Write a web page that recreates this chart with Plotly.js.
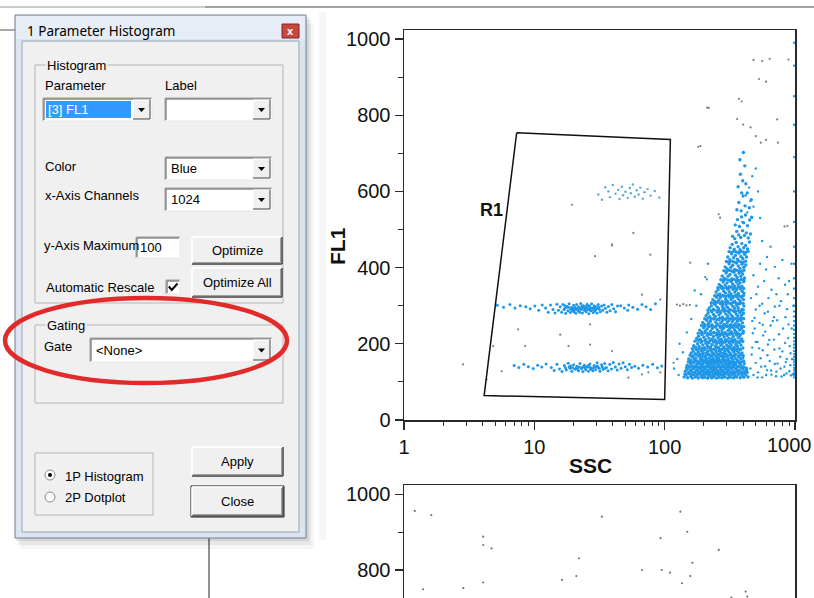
<!DOCTYPE html>
<html><head><meta charset="utf-8">
<script src="https://cdn.plot.ly/plotly-3.0.1.min.js"></script>
<style>html,body{margin:0;padding:0;background:#fff;}#chart{width:814px;height:598px;}</style>
</head><body><div id="chart"></div>
<script>
// ---------------- DATA (SSC, FL1) ----------------
const xTickVals = [1, 10, 100, 1000];
const xTickText = ['1', '10', '100', '1000'];
const xMinorVals = [2,3,4,5,6,7,8,9,20,30,40,50,60,70,80,90,200,300,400,500,600,700,800,900];
const yTickVals = [0, 200, 400, 600, 800, 1000];
const yMinorVals = [100, 300, 500, 700, 900];

// Gate R1 polygon vertices
const gateSSC = [7.32, 110.6, 100, 4.12, 7.32];
const gateFL1 = [754, 736, 54, 64, 754];
const gateLabel = 'R1';

// Dense main population (triangle)
const mainDense = [
[141,113],[146,118],[150,111],[155,121],[159,114],[163,110],[168,119],[172,113],[177,116],[181,110],[186,121],[190,114],[195,111],[199,118],[204,112],[209,120],[214,110],[218,115],[223,119],[229,111],[234,116],[240,113],[246,120],[251,110],[257,117],[263,112],[270,119],[276,111],[283,116],[290,113],[297,121],[305,110],[312,117],[320,112],[329,119],[338,111],[348,116],[357,113],[368,120],[380,111],[392,117],[405,112],[420,118],[436,113],
[144,128],[149,133],[153,125],[158,131],[162,127],[167,135],[171,126],[176,132],[180,129],[185,124],[189,134],[194,128],[198,131],[203,125],[208,133],[213,127],[217,130],[222,124],[227,135],[233,128],[238,132],[244,126],[249,134],[255,129],[261,125],[267,133],[273,128],[280,131],[287,125],[294,134],[301,127],[309,132],[317,126],[325,135],[334,129],[343,124],[353,133],[363,127],[374,131],[386,126],[398,134],[411,128],[425,132],
[149,144],[154,139],[158,148],[163,142],[168,150],[172,141],[177,146],[182,139],[186,149],[191,143],[196,147],[201,140],[206,151],[211,144],[216,148],[221,141],[226,146],[232,150],[237,142],[243,147],[248,139],[254,149],[260,144],[266,141],[272,150],[279,145],[285,140],[292,148],[299,143],[307,151],[315,146],[323,140],[331,149],[340,144],[350,147],[360,141],[371,150],[383,145],[395,139],[408,148],
[153,160],[158,156],[163,165],[168,158],[173,162],[178,155],[183,167],[188,160],[193,164],[198,157],[203,166],[208,161],[213,155],[219,163],[224,158],[230,167],[235,161],[241,156],[247,165],[253,159],[259,163],[265,156],[272,167],[278,160],[285,164],[292,157],[300,166],[307,161],[315,155],[324,164],[333,159],[342,167],[352,161],[362,156],[373,165],[385,160],[398,163],
[160,176],[166,181],[171,174],[176,184],[181,178],[187,173],[192,182],[197,177],[203,185],[208,175],[214,180],[219,172],[225,183],[231,178],[237,174],[243,184],[249,179],[255,173],[262,182],[268,177],[275,185],[282,175],[289,180],[296,173],[304,183],[312,178],[320,174],[329,184],[338,179],[348,173],[358,182],[369,177],[380,185],[392,176],
[167,195],[173,191],[179,200],[184,193],[190,204],[196,197],[202,190],[207,201],[213,195],[219,203],[225,192],[231,198],[238,205],[244,194],[250,200],[257,191],[263,203],[270,196],[277,201],[284,192],[292,205],[299,197],[307,193],[315,202],[324,196],[333,204],[342,191],[352,199],[362,194],[373,203],[385,197],
[176,214],[182,220],[188,212],[194,224],[200,217],[206,211],[212,222],[218,215],[224,225],[231,213],[237,219],[244,210],[250,223],[257,216],[264,221],[271,212],[278,224],[286,218],[293,211],[301,222],[310,215],[318,225],[327,213],[336,219],[346,211],[356,223],[367,216],[378,221],[390,213],
[186,236],[192,231],[199,242],[205,234],[212,239],[218,245],[225,233],[232,240],[239,230],[246,244],[253,237],[260,232],[268,243],[275,236],[283,241],[291,230],[299,245],[307,235],[316,240],[325,232],[334,243],[344,237],[354,231],[365,242],[376,236],[388,240],[401,233],
[196,256],[203,251],[210,262],[217,254],[224,259],[231,250],[238,265],[246,257],[253,252],[261,263],[269,255],[277,260],[285,251],[293,264],[302,256],[311,261],[320,250],[330,258],[340,264],[350,253],[361,259],[372,251],[384,262],[396,255],
[208,274],[215,280],[222,271],[230,284],[237,277],[245,272],[253,283],[261,276],[269,281],[278,270],[286,285],[295,278],[304,273],[313,282],[323,276],[333,271],[343,284],[354,278],[365,273],[377,282],[389,275],[402,280],
[220,294],[228,300],[236,291],[244,303],[252,297],[260,292],[269,305],[277,298],[286,293],[295,302],[304,296],[314,290],[324,304],[334,298],[345,293],[356,301],[367,295],[379,305],[392,290],[405,299],
[234,316],[242,311],[250,322],[259,314],[267,320],[276,311],[285,325],[294,317],[303,312],[313,323],[323,316],[333,321],[344,312],[355,324],[366,318],[378,313],[390,322],[403,316],
[248,336],[257,342],[266,331],[275,345],[284,338],[293,333],[303,344],[313,337],[323,331],[334,343],[345,336],[356,341],[368,332],[380,344],[393,338],[406,333],
[262,356],[272,351],[281,362],[291,354],[301,360],[311,350],[322,364],[332,357],[343,352],[355,362],[366,355],[379,360],[391,351],[404,363],
[276,378],[286,372],[296,386],[306,377],[317,382],[327,371],[338,388],[349,380],[360,374],[372,385],[384,377],[397,383],[410,373],
[291,402],[301,397],[312,410],[322,401],[333,406],[344,395],[356,412],[367,404],[379,398],[392,409],[405,401],[419,407],
[305,428],[316,421],[327,436],[338,426],[349,432],[361,422],[373,438],[385,429],[398,424],[411,435],[425,428],
[318,452],[330,461],[342,448],[354,466],[366,455],[378,447],[391,463],[404,452],[418,458],[432,449],[447,467],
[332,482],[345,476],[357,495],[370,486],[383,479],[396,497],[409,484],[423,491],[438,478],[455,488],
[348,512],[362,526],[375,508],[389,533],[403,518],[417,538],[432,510],[448,525],[465,532],
[358,552],[371,571],[386,549],[400,588],[414,562],[430,596],[446,557],[462,578],
[366,612],[381,645],[397,628],[412,667],[378,683],[402,702],[420,620],[390,596]
];

// Additional events filling the main population
const mainFill = [
[143,121],[152,123],[161,119],[170,124],[179,121],[188,126],[197,120],[206,124],[216,122],[226,126],[236,120],[247,124],[258,122],[270,126],[282,121],[295,124],[309,120],[323,125],[338,122],[354,126],[371,121],[389,124],[409,122],[430,125],
[147,137],[156,139],[165,136],[174,140],[183,137],[192,139],[202,136],[212,140],[222,137],[233,139],[244,136],[256,140],[268,137],[281,139],[294,136],[308,140],[322,137],[337,139],[353,136],[369,140],[387,137],[405,139],[424,136],
[152,153],[161,151],[170,155],[179,152],[189,154],[199,151],[209,155],[220,152],[231,154],[242,151],[254,155],[266,152],[279,154],[292,151],[306,155],[320,152],[335,154],[351,151],[367,155],[385,152],[403,154],
[157,170],[166,168],[176,171],[186,169],[196,172],[206,168],[217,171],[228,169],[240,172],[252,168],[264,171],[277,169],[290,172],[304,168],[318,171],[333,169],[349,172],[366,168],[383,171],[401,169],
[163,187],[173,189],[183,186],[193,188],[204,185],[215,189],[226,187],[238,186],[250,189],[262,187],[275,185],[288,188],[302,186],[316,189],[331,187],[347,185],[363,188],[380,186],[398,189],
[171,207],[181,209],[192,206],[203,208],[214,205],[225,209],[237,207],[249,206],[262,209],[275,207],[288,205],[302,208],[316,206],[331,209],[347,207],[363,205],[380,208],[398,206],
[181,228],[192,226],[203,229],[214,227],[226,225],[238,229],[250,227],[263,226],[276,229],[289,227],[303,225],[317,228],[332,226],[348,229],[364,227],[381,225],[399,228],
[192,248],[203,246],[215,249],[227,247],[239,245],[252,249],[265,247],[278,246],[292,249],[306,247],[321,245],[336,248],[352,246],[369,249],[386,247],[404,245],
[203,266],[215,268],[227,265],[239,267],[252,264],[265,268],[278,266],[292,265],[306,268],[321,266],[336,264],[352,267],[369,265],[386,268],[404,266],
[215,288],[227,286],[239,289],[252,287],[265,285],[278,289],[292,287],[306,286],[320,289],[335,287],[351,285],[367,288],[384,286],[401,289],
[228,308],[240,306],[253,309],[266,307],[279,305],[293,309],[307,307],[321,306],[336,309],[351,307],[367,305],[384,308],[401,306],
[242,326],[255,328],[268,325],[281,327],[295,324],[309,328],[323,326],[338,325],[353,328],[369,326],[386,324],[403,327],
[256,347],[269,349],[282,346],[296,348],[310,345],[324,349],[339,347],[354,346],[370,349],[387,347],[404,345],
[270,368],[283,366],[297,369],[311,367],[325,365],[340,369],[355,367],[371,366],[388,369],[405,367],
[285,392],[299,390],[313,393],[327,391],[341,389],[356,393],[372,391],[388,390],[405,393],
[298,416],[312,414],[326,417],[340,415],[355,413],[370,417],[386,415],[402,414],[419,417],
[312,442],[326,440],[340,443],[355,441],[370,439],[385,443],[401,441],[418,440],[436,443]
];

// Upper horizontal band (~FL1 290)
const bandUpper = [
[5.2,301],[5.8,296],[6.5,303],[7.1,294],[7.8,300],[8.6,297],[9.3,292],[10.1,299],[10.8,288],[11.5,302],
[12.2,294],[12.8,283],[13.3,302],[13.9,290],[14.4,281],[14.9,304],[15.3,288],[15.8,297],[16.2,283],[16.6,303],[17.0,292],[17.4,280],[17.8,298],[18.1,287],[18.5,305],[18.9,282],[19.3,295],[19.6,286],[20.0,301],[20.4,290],[20.8,280],[21.1,303],[21.5,289],[21.9,297],[22.3,283],[22.7,306],[23.0,293],[23.4,281],[23.8,300],[24.2,288],[24.6,297],[25.0,284],[25.4,304],[25.8,291],[26.2,279],[26.6,299],[27.0,287],[27.5,305],[27.9,294],[28.3,282],[28.8,300],[29.3,289],[29.8,297],[30.3,281],[30.9,303],[31.5,291],[32.1,284],[32.8,299],[33.5,288],[34.3,302],[35.1,293],[36.0,283],[37.0,298],[38.1,287],[39.3,303],[40.6,292],[42.0,284],[43.5,299],
[18.3,296],[19.0,291],[19.9,293],[20.6,295],[21.3,292],[22.1,294],[22.9,290],[23.6,296],[24.4,292],[25.2,294],[26.0,290],[26.8,295],[27.7,291],[28.6,294],[29.5,290],[16.9,290],[17.6,296],[24.8,287],[21.7,286],[19.7,288],[27.3,288],[20.2,284],[23.2,299],[25.6,300],[29.0,286],[31.2,296],[17.2,300],[22.5,292],[26.4,292],[30.0,292],
[46,300],[49,294],[53,302],[57,296],[62,291],[67,303],[72,297],[78,290],[85,305],[52,288]
];

// Lower horizontal band (~FL1 140)
const bandLower = [
[7.0,143],[7.6,138],[8.3,146],[9.0,140],[9.8,135],[10.6,144],[11.4,139],[12.3,147],
[13.5,138],[14.2,130],[14.9,146],[15.6,134],[16.3,127],[17.0,143],[17.6,131],[18.2,149],[18.8,136],[19.4,128],[20.0,145],[20.6,133],[21.2,141],[21.8,129],[22.4,148],[23.0,135],[23.6,127],[24.2,144],[24.8,132],[25.4,140],[26.0,128],[26.7,147],[27.4,135],[28.1,129],[28.8,143],[29.5,132],[30.3,150],[31.1,137],[31.9,128],[32.8,145],[33.7,133],[34.7,148],[35.7,138],[36.8,129],[37.9,146],[39.1,134],[40.4,151],[41.8,139],[43.2,131],[44.7,147],[46.3,136],[48.0,150],[49.8,140],[51.7,132],[53.7,146],[55.8,138],
[18.5,139],[19.7,137],[20.9,136],[22.1,139],[23.3,138],[24.5,137],[25.7,139],[26.9,138],[28.4,137],[29.9,139],[31.5,136],[33.2,140],[17.3,137],[35.0,136],[21.5,134],[24.0,141],[27.0,133],[30.5,142],[19.0,142],[26.0,143],
[59,141],[63,136],[68,144],[74,139],[81,146],[88,137],[95,142]
];

// Small cluster near FL1 600
const clusterUpper = [
[31,592],[33,578],[35,611],[37,600],[38,585],[40,617],[42,594],[44,604],[45,580],[47,612],[48,590],[50,599],[52,583],[54,609],[55,595],[57,618],[59,586],[61,603],[63,592],[65,610],[68,581],[70,598],[74,606],[78,589],[84,601],[91,584]
];

// Sparse events around and right of main population
const sparseBlue = [
[480,118],[520,125],[560,112],[610,131],[660,119],[720,127],[790,114],[860,122],[930,117],
[500,150],[545,162],[590,141],[640,155],[700,147],[770,166],[850,152],[920,144],
[470,190],[515,205],[565,183],[620,198],[690,211],[760,188],[840,202],[910,194],
[490,240],[535,255],[590,232],[650,248],[730,262],[810,240],[890,251],
[500,290],[560,305],[620,284],[700,298],[780,312],[870,291],
[520,350],[580,365],[660,342],[750,372],[840,355],
[540,410],[610,428],[700,402],[800,420],[560,470],[650,455],
[455,135],[465,172],[475,228],[490,268],[505,330],[515,112],[530,188],[550,140],[570,222],[585,280],[600,118],[615,170],[635,210],[655,130],[675,260],[695,185],[715,115],[735,148],[755,225],[775,135],[800,180],[825,118],[845,270],[865,160],[885,215],[905,128],[925,175],[945,240],[960,120],[970,300],[460,320],[480,380],[600,395],[720,330],[880,330],[940,410],[470,260],[500,205],[535,300],[565,250],[625,320],[690,270],[760,300],[830,140],[900,365],[950,160],
[125,160],[130,200],[138,178],[148,230],[160,265],[175,300],[190,330],[205,375],[118,135],[128,118],[170,340],[215,410],
[420,590],[445,610],[470,640],[500,660],[455,575],[520,600],[430,545],[480,560],[395,520],[540,530]
];

// Saturated events on the right edge
const edgeColumn = [
[985,112],[985,118],[985,124],[985,131],[985,137],[985,145],[985,152],[985,158],[985,166],[985,173],[985,181],[985,190],[985,198],[985,207],[985,216],[985,226],[985,237],[985,248],[985,260],[985,272],[985,285],[985,300],[985,320],[985,345],[985,372],[985,410],[985,455],[985,520],[985,600],[985,690],[985,775],[985,850],[985,930],[985,990]
];

// Stray grey events
const strayGray = [
[2.84,146],[4.83,194],[5.62,128],[8.5,194],[18.3,194],[15.8,224],[26.8,198],[26.8,251],[39.4,181],[39.4,461],[29.3,430],[77.6,434],[67,329],[92.6,316],[157,413],[211,369],[75,125],[67,120],[92.6,125],[117,150],[7.5,238],[4.3,106],[52.7,111],
[19.4,565],[57.5,491],[39.4,458],
[124,303],[131,300],[139,304],[147,301],[156,302],
[480,945],[560,942],[640,948],[530,895],[600,888],[372,843],[390,836],[212,820],[360,790],[400,775],[456,768],[500,745],[600,735],[740,728],[181,717],[260,540],[830,508],[890,946],[730,789],[873,509],[547,728],[218,819],[188,719],[266,531]
];

// Second (lower) panel events
const lowerPanelDots = [
[1.21,956],[1.62,945],[4.05,888],[4.05,866],[4.7,857],[33,941],[132,954],[149,901],[93,884],[260,853],[22,831],[21,784],[67,800],[95,800],[110,793],[163,819],[157,784],[136,765],[16.3,774],[4.05,767],[1.4,749],[2.85,752],[418,743],[430,730],[325,727]
];

// ---------------- FIGURE ----------------
const W = 814, H = 598;
const X = p => p / W;
const Y = p => 1 - p / H;
const shapes = [];
const annos = [];
const SANS = 'Liberation Sans, Arial, sans-serif';
function rect(x0,y0,x1,y1,fill,lc,lw){
  shapes.push({type:'rect',xref:'paper',yref:'paper',x0:X(x0),x1:X(x1),y0:Y(y1),y1:Y(y0),
    fillcolor:fill||'rgba(0,0,0,0)',line:{color:lc||'rgba(0,0,0,0)',width:lw||0}});
}
function seg(x0,y0,x1,y1,c,w){
  shapes.push({type:'line',xref:'paper',yref:'paper',x0:X(x0),x1:X(x1),y0:Y(y0),y1:Y(y1),line:{color:c,width:w}});
}
function poly(pts,fill,lc,lw,closed){
  let d = pts.map((p,i)=>(i?'L':'M')+X(p[0])+','+Y(p[1])).join(' ');
  if(closed!==false) d += ' Z';
  shapes.push({type:'path',xref:'paper',yref:'paper',path:d,fillcolor:fill||'rgba(0,0,0,0)',line:{color:lc||'rgba(0,0,0,0)',width:lw||0}});
}
function ell(x0,y0,x1,y1,fill,lc,lw){
  shapes.push({type:'circle',xref:'paper',yref:'paper',x0:X(x0),x1:X(x1),y0:Y(y1),y1:Y(y0),
    fillcolor:fill||'rgba(0,0,0,0)',line:{color:lc||'rgba(0,0,0,0)',width:lw||0}});
}
function txt(x,y,s,o){
  o=o||{};
  const a={xref:'paper',yref:'paper',x:X(x),y:Y(y),text:s,showarrow:false,
    xanchor:o.anchor||'left',yanchor:'middle',
    font:{family:o.family||SANS,size:o.size||13,color:o.color||'#000'},
    borderpad:o.pad===undefined?0:o.pad,textangle:o.angle||0};
  if(o.bg) a.bgcolor=o.bg;
  annos.push(a);
}
function sunken(x0,y0,x1,y1){
  rect(x0,y0,x1,y1,'#ffffff');
  seg(x0,y0,x1,y0,'#a0a0a0',1); seg(x0,y0,x0,y1,'#a0a0a0',1);
  seg(x0+1,y0+1,x1-1,y0+1,'#555555',1); seg(x0+1,y0+1,x0+1,y1-1,'#555555',1);
  seg(x0,y1,x1,y1,'#e8e8e8',1); seg(x1,y0,x1,y1,'#e8e8e8',1);
}
function combo(x0,y0,x1,y1,label,sel){
  sunken(x0,y0,x1,y1);
  const bx0=x1-19, bx1=x1-2, by0=y0+2, by1=y1-2;
  rect(bx0,by0,bx1,by1,'#f0f0f0');
  seg(bx0,by0,bx1,by0,'#ffffff',1); seg(bx0,by0,bx0,by1,'#ffffff',1);
  seg(bx0,by1,bx1,by1,'#404040',1); seg(bx1,by0,bx1,by1,'#404040',1);
  const cx=(bx0+bx1)/2, cy=(by0+by1)/2+0.5;
  poly([[cx-3.5,cy-2],[cx+3.5,cy-2],[cx,cy+2]],'#000000');
  if(sel){ rect(x0+3,y0+3,bx0-2,y1-3,'#3399ff'); txt(x0+4,(y0+y1)/2,label,{color:'#ffffff'}); }
  else if(label) txt(x0+5,(y0+y1)/2,label);
}
function button(x0,y0,x1,y1,label,def){
  if(def) rect(x0-1,y0-1,x1+1,y1+1,'#f0f0f0','#1a1a1a',1);
  rect(x0,y0,x1,y1,'#f0f0f0');
  seg(x0,y0,x1,y0,'#ffffff',1.5); seg(x0,y0,x0,y1,'#ffffff',1.5);
  seg(x0,y1,x1,y1,'#404040',1.5); seg(x1,y0,x1,y1,'#404040',1.5);
  seg(x0+1,y1-1.5,x1-1.5,y1-1.5,'#a0a0a0',1); seg(x1-1.5,y0+1,x1-1.5,y1-1.5,'#a0a0a0',1);
  txt((x0+x1)/2,(y0+y1)/2,label,{anchor:'center'});
}

// background window lines
seg(0,7,205,7,'#9a9a9a',1.2);
seg(205,7,814,7,'#444444',1.2);
seg(0,30,15,30,'#555555',1);
seg(209,538,209,598,'#222222',1);
rect(319,12,326,540,'#f6f6f6');

// dialog shadow
rect(20,24,314,549,'rgba(0,0,0,0.04)');
rect(18,20,311,545,'rgba(0,0,0,0.06)');
rect(16,17,309,541,'rgba(0,0,0,0.08)');
// dialog frame
rect(15,15,306,538,'#dbe5f0','#6f7f92',1);
rect(16,16,305,39,'#e6edf6');
rect(22,41,299,532,'#f0f0f0','#97a6b6',1);
txt(26,31,'1 Parameter Histogram',{family:'Noto Sans, Open Sans, sans-serif',size:13.5});
rect(282,24,299,38,'#c8473e','#7a2a22',1);
txt(290.5,30.5,'<b>x</b>',{anchor:'center',color:'#ffffff',size:11});

// Histogram group
rect(35,65,283,303,null,'#b5b5b5',1);
txt(45,65,'Histogram',{bg:'#f0f0f0',pad:1});
txt(44,85,'Parameter');
txt(164,85,'Label');
combo(43,98,152,121,'[3] FL1',true);
combo(165,98,272,121,'',false);
txt(44,167,'Color');
combo(165,157,272,180,'Blue',false);
txt(44,195,'x-Axis Channels');
combo(165,188,272,211,'1024',false);
txt(43,246,'y-Axis Maximum');
sunken(136,237,180,258);
txt(139,247.5,'100');
button(192,237,282,264,'Optimize');
txt(45,287,'Automatic Rescale');
sunken(166,280,180,294);
poly([[168.8,286.5],[171.8,290],[177.5,283.5]],null,'#000000',2,false);
button(192,268,282,297,'Optimize All');

// Gating group
rect(35,325,283,403,null,'#b5b5b5',1);
txt(45,325,'Gating',{bg:'#f0f0f0',pad:1});
txt(43,347,'Gate');
combo(90,338,272,362,'&lt;None&gt;',false);

// radio group
rect(35,453,153,515,null,'#b5b5b5',1);
ell(45,470,55,480,'#ffffff','#8a8a8a',1);
ell(48,473,52,477,'#000000');
txt(64,476,'1P Histogram');
ell(45,492,55,502,'#ffffff','#8a8a8a',1);
txt(64,497,'2P Dotplot');
button(192,447,283,476,'Apply');
button(192,487,283,516,'Close',true);

// red ellipse
ell(5,298,287,383,null,'#e32a2a',4.5);

// plot labels
txt(590,465,'<b>SSC</b>',{anchor:'center',size:21,color:'#111'});
txt(338,246,'<b>FL1</b>',{anchor:'center',size:21,color:'#111',angle:-90});
txt(491,210,'<b>'+gateLabel+'</b>',{anchor:'center',size:18,color:'#111'});
// last x tick label sits against the window edge in the reference
txt(813,445,xTickText[3],{anchor:'right',size:20,color:'#111'});
const xTickShown = xTickText.map((t,i)=> i===3 ? '' : t);

const BLUE = '#1f97e8';
const px = a => a.map(p=>p[0]);
const py = a => a.map(p=>p[1]);
function pts(arr,color,size,xa,ya){
  return {type:'scatter',mode:'markers',x:px(arr),y:py(arr),xaxis:xa||'x',yaxis:ya||'y',
    marker:{color:color,size:size,line:{width:0}},hoverinfo:'skip',cliponaxis:true};
}
const traces = [
  pts(strayGray,'#76808a',2.2),
  pts(sparseBlue,BLUE,2.4),
  pts(edgeColumn,BLUE,2.4),
  pts(clusterUpper,'#5aa8d8',2.4),
  pts(mainFill,BLUE,3.4),
  pts(mainDense,BLUE,3.4),
  pts(bandUpper,BLUE,3),
  pts(bandLower,BLUE,3),
  {type:'scatter',mode:'lines',x:gateSSC,y:gateFL1,xaxis:'x',yaxis:'y',line:{color:'#111',width:1.5},hoverinfo:'skip'},
  pts(lowerPanelDots,'#6e767e',2.2,'x2','y2')
];

const axLine = {showline:true,linecolor:'#2a2a2a',linewidth:1.5,showgrid:false,zeroline:false};
const tickFont = {family:SANS,size:20,color:'#111'};
const layout = {
  width:W,height:H,margin:{l:0,r:0,t:0,b:0},showlegend:false,
  paper_bgcolor:'#ffffff',plot_bgcolor:'rgba(0,0,0,0)',
  xaxis:Object.assign({},axLine,{type:'log',range:[0,3],domain:[404/W,795/W],anchor:'y',mirror:true,
    ticks:'outside',ticklen:8,tickwidth:1.3,tickcolor:'#2a2a2a',tickmode:'array',tickvals:xTickVals,ticktext:xTickShown,tickfont:tickFont,
    minor:{tickmode:'array',tickvals:xMinorVals,ticks:'outside',ticklen:4,tickwidth:1,tickcolor:'#2a2a2a',showgrid:false}}),
  yaxis:Object.assign({},axLine,{range:[0,1023.6],domain:[1-420/H,1-30/H],anchor:'x',mirror:true,
    ticks:'outside',ticklen:8,tickwidth:1.3,tickcolor:'#2a2a2a',tickmode:'array',tickvals:yTickVals,tickfont:tickFont,
    ticklabeloverflow:'allow',
    minor:{tickmode:'array',tickvals:yMinorVals,ticks:'outside',ticklen:5,tickwidth:1,tickcolor:'#2a2a2a',showgrid:false}}),
  xaxis2:Object.assign({},axLine,{type:'log',range:[0,3],domain:[404/W,795/W],anchor:'y2',side:'top',ticks:'',showticklabels:false}),
  yaxis2:Object.assign({},axLine,{range:[726,1024.6],domain:[0,1-485/H],anchor:'x2',mirror:true,
    ticks:'outside',ticklen:8,tickwidth:1.3,tickcolor:'#2a2a2a',tickmode:'array',tickvals:yTickVals,tickfont:tickFont,
    ticklabeloverflow:'allow',
    minor:{tickmode:'array',tickvals:yMinorVals,ticks:'outside',ticklen:5,tickwidth:1,tickcolor:'#2a2a2a',showgrid:false}}),
  shapes:shapes,annotations:annos
};
Plotly.newPlot('chart',traces,layout,{staticPlot:true,displayModeBar:false});
</script></body></html>
